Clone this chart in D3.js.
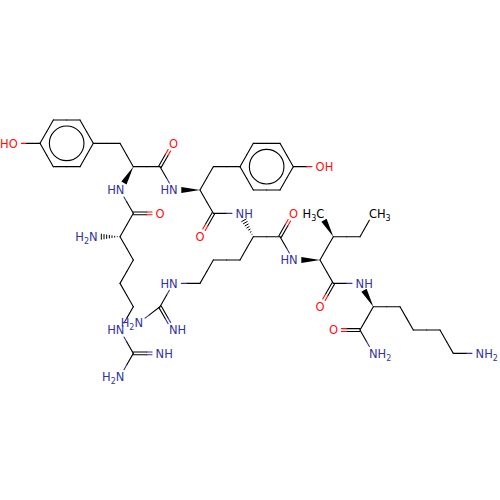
<!DOCTYPE html>
<html>
<head>
<meta charset="utf-8">
<style>
  html, body { margin: 0; padding: 0; background: #fff; }
  svg { display: block; }
  text { font-family: "DejaVu Sans", sans-serif; font-size: 11.5px; }
</style>
</head>
<body>
<script src="https://d3js.org/d3.v7.min.js"></script>
<script>
// atoms sit on a hexagonal lattice, so positions are lattice column / row
const atomNames = ["oh1","r1a","r1b","r1c","r1d","r1e","r1f","cb1","ca1","c1","o1","n1","c0","o0","ca0","nt0",
  "cb0","cg0","cd0","ne0","cz0","nh0","nn0","n2","ca2","cb2","r2a","r2b","r2c","r2d","r2e","r2f","oh2","c2","o2",
  "n3","ca3","c3","o3","cb3","cg3","cd3","ne3","cz3","nh3","nn3","n4","ca4","cb4","cg2","cg1","cd1","c4","o4",
  "n5","ca5","c5","o5","n6","cb5","cg5","cd5","ce5","nz5"];
const atomCols = [1,3,4,6,7,6,4,9,10,12,13,9,10,12,9,7,
  10,9,10,9,10,12,9,13,15,16,18,19,21,22,21,19,24,16,15,
  18,19,21,22,18,16,15,13,12,13,10.4,22,24,25,24,27,28,25,24,
  27,28,27,25,28,30,31,33,34,36];
const atomRows = [1,1,0,0,1,2,2,1,2,2,1,3,4,4,5,5,
  6,7,8,9,10,10,11,3,3,2,2,1,1,2,3,3,2,4,5,
  4,5,5,4,6,6,7,7,8,9,8.7,6,6,5,4,5,4,7,8,
  7,8,9,9,10,8,9,9,10,10];

const atomLabels = {
  oh1: "HO", o1: "O", n1: "HN", o0: "O", nt0: "H2N", ne0: "HN", nh0: "NH", nn0: "H2N",
  n2: "HN", oh2: "OH", o2: "O", n3: "NH", o3: "O", ne3: "HN", nh3: "NH", nn3: "H2N",
  n4: "HN", cg2: "H3C", cd1: "CH3", o4: "O", n5: "NH", o5: "O", n6: "NH2", nz5: "NH2"
};

const singleBonds = [["oh1","r1a"],["r1a","r1b"],["r1b","r1c"],["r1c","r1d"],["r1d","r1e"],["r1e","r1f"],["r1f","r1a"],
  ["r1d","cb1"],["cb1","ca1"],["ca1","c1"],["c1","n2"],["n1","c0"],["c0","ca0"],["ca0","cb0"],["cb0","cg0"],["cg0","cd0"],
  ["cd0","ne0"],["ne0","cz0"],["cz0","nn0"],["ca2","cb2"],["cb2","r2a"],["r2a","r2b"],["r2b","r2c"],["r2c","r2d"],
  ["r2d","r2e"],["r2e","r2f"],["r2f","r2a"],["r2d","oh2"],["ca2","c2"],["c2","n3"],["ca3","c3"],["c3","n4"],["ca3","cb3"],
  ["cb3","cg3"],["cg3","cd3"],["cd3","ne3"],["ne3","cz3"],["cz3","nn3"],["ca4","cb4"],["cb4","cg1"],["cg1","cd1"],
  ["ca4","c4"],["c4","n5"],["ca5","c5"],["c5","n6"],["ca5","cb5"],["cb5","cg5"],["cg5","cd5"],["cd5","ce5"],["ce5","nz5"]];
const doubleBonds = [["c1","o1"],["c0","o0"],["cz0","nh0"],["c2","o2"],["c3","o3"],["cz3","nh3"],["c4","o4"],["c5","o5"]];
const wedgeBonds = [["ca1","n1"],["ca2","n2"],["ca4","n4"],["cb4","cg2"],["ca5","n5"]];
const hashBonds = [["ca0","nt0"],["ca3","n3"]];
const ringCentres = [[5,1],[20,2]];

const W = 500, H = 500;
const NAVY = "#33339f", RED = "#ff0d0d", INK = "#000";

const x = d3.scaleLinear().domain([0,37.5]).range([0,W]);
const y = d3.scaleLinear().domain([0,11]).range([120,376.7]);

const svg = d3.select("body").append("svg").attr("width",W).attr("height",H);

const atoms = {};
atomNames.forEach((n,i) => {
  atoms[n] = {name: n, x: x(atomCols[i]), y: y(atomRows[i]), label: atomLabels[n]};
});

function atomColor(a) {
  if (!a.label) return INK;
  if (a.label.includes("O")) return RED;
  if (a.label.includes("N")) return NAVY;
  return INK;
}

// trims a bond so that it stops short of a label
function trimmed(a, b, gap) {
  const dx = b.x-a.x, dy = b.y-a.y, len = Math.hypot(dx,dy);
  const t0 = a.label ? gap/len : 0, t1 = b.label ? 1-gap/len : 1;
  return {
    x1: a.x+dx*t0, y1: a.y+dy*t0, x2: a.x+dx*t1, y2: a.y+dy*t1,
    mx: (a.x+b.x)/2, my: (a.y+b.y)/2, ux: dx/len, uy: dy/len
  };
}

const bondLayer = svg.append("g").attr("stroke-width",1.1).attr("stroke-linecap","round");

function halfLine(p, a, b, off) {
  const ox = -p.uy*off, oy = p.ux*off;
  bondLayer.append("line")
    .attr("x1",p.x1+ox).attr("y1",p.y1+oy).attr("x2",p.mx+ox).attr("y2",p.my+oy)
    .attr("stroke",atomColor(a));
  bondLayer.append("line")
    .attr("x1",p.mx+ox).attr("y1",p.my+oy).attr("x2",p.x2+ox).attr("y2",p.y2+oy)
    .attr("stroke",atomColor(b));
}

singleBonds.forEach(([m,n]) => {
  const a = atoms[m], b = atoms[n];
  halfLine(trimmed(a,b,8), a, b, 0);
});

doubleBonds.forEach(([m,n]) => {
  const a = atoms[m], b = atoms[n], p = trimmed(a,b,8);
  halfLine(p, a, b, 1.4);
  halfLine(p, a, b, -1.4);
});

wedgeBonds.forEach(([m,n]) => {
  const p = trimmed(atoms[m],atoms[n],8), w = 3;
  svg.append("path")
    .attr("d",d3.line()([[p.x1,p.y1],[p.x2-p.uy*w,p.y2+p.ux*w],[p.x2+p.uy*w,p.y2-p.ux*w]])+"Z")
    .attr("fill",INK);
});

hashBonds.forEach(([m,n]) => {
  const p = trimmed(atoms[m],atoms[n],8);
  d3.range(1,8).forEach(i => {
    const t = i/7, w = 3*t;
    const cx = p.x1+(p.x2-p.x1)*t, cy = p.y1+(p.y2-p.y1)*t;
    svg.append("line")
      .attr("x1",cx-p.uy*w).attr("y1",cy+p.ux*w).attr("x2",cx+p.uy*w).attr("y2",cy-p.ux*w)
      .attr("stroke",INK).attr("stroke-width",1);
  });
});

svg.selectAll("circle.ring").data(ringCentres).enter().append("circle")
  .attr("class","ring")
  .attr("cx",d => x(d[0])).attr("cy",d => y(d[1])).attr("r",17.3)
  .attr("fill","none").attr("stroke",INK).attr("stroke-width",1.1);

// labels: the heavy atom letter is kept over the atom's position
Object.values(atoms).filter(a => a.label).forEach(a => {
  const heavyFirst = /^[ONC]/.test(a.label);
  const t = svg.append("text")
    .attr("x", heavyFirst ? a.x-4.4 : a.x+4.4)
    .attr("y", a.y+4.2)
    .attr("text-anchor", heavyFirst ? "start" : "end")
    .attr("fill", atomColor(a));
  const m = a.label.match(/^([A-Z]+)(\d)?([A-Z]*)$/);
  t.append("tspan").text(m[1]);
  if (m[2]) {
    t.append("tspan").attr("dy",3).attr("font-size",8).text(m[2]);
    if (m[3]) t.append("tspan").attr("dy",-3).text(m[3]);
  }
});
</script>
</body>
</html>
